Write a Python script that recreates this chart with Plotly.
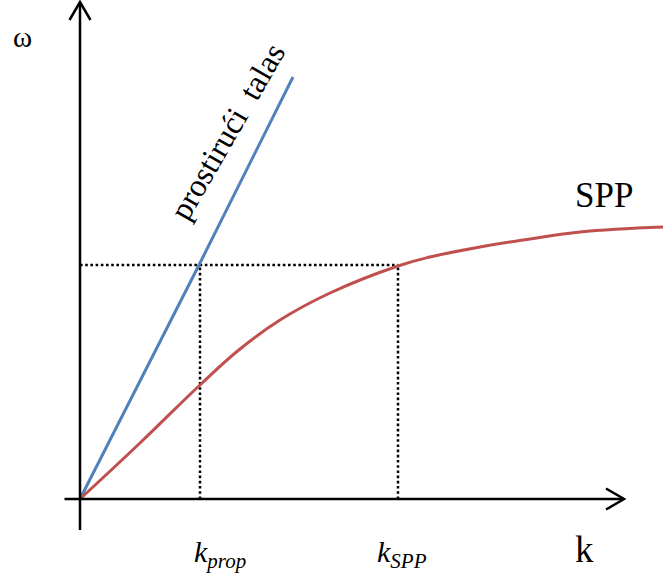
import plotly.graph_objects as go

# Light line (prostirući talas): omega = c k
k_light = [0.0, 1.20, 2.13]
w_light = [0.0, 2.36, 4.22]

# SPP dispersion curve
k_spp = [0.0, 0.60, 1.20, 1.60, 2.00, 2.50, 3.18, 3.50, 4.00, 4.50, 5.00, 5.83]
w_spp = [0.0, 0.56, 1.14, 1.50, 1.79, 2.06, 2.33, 2.42, 2.52, 2.60, 2.67, 2.72]

# Marked wavevectors and common frequency
k_prop = 1.20
k_SPP = 3.18
w_mark = 2.34

FONT = "Liberation Serif"
fig = go.Figure()

# dotted guide lines
dot = dict(color="black", width=2.5, dash="2.6px,2.6px")
fig.add_trace(go.Scatter(x=[0, k_SPP], y=[w_mark, w_mark], mode="lines",
                         line=dot, hoverinfo="skip"))
for kv in (k_prop, k_SPP):
    fig.add_trace(go.Scatter(x=[kv, kv], y=[0, w_mark], mode="lines",
                             line=dot, hoverinfo="skip"))

fig.add_trace(go.Scatter(x=k_light, y=w_light, mode="lines",
                         line=dict(color="#4F81BD", width=3)))
fig.add_trace(go.Scatter(x=k_spp, y=w_spp, mode="lines",
                         line=dict(color="#C0504D", width=3, shape="spline", smoothing=1.2)))

# axes with open arrowheads
ax = dict(type="line", xref="x", yref="y", line=dict(color="black", width=2.5))
fig.add_shape(**ax, x0=-0.155, y0=0, x1=5.44, y1=0)
fig.add_shape(**ax, x0=0, y0=-0.31, x1=0, y1=4.97)
fig.add_shape(type="path", xref="x", yref="y", path="M 5.26 0.105 L 5.44 0 L 5.26 -0.105",
              line=dict(color="black", width=2.5))
fig.add_shape(type="path", xref="x", yref="y", path="M -0.105 4.79 L 0 4.97 L 0.105 4.79",
              line=dict(color="black", width=2.5))

def ann(x, y, text, size, **kw):
    fig.add_annotation(x=x, y=y, xref="x", yref="y", text=text, showarrow=False,
                       font=dict(family=FONT, size=size, color="black"), **kw)

ann(-0.58, 4.62, "ω", 29)
ann(5.04, -0.50, "k", 37)
ann(1.12, -0.55, "<i>k<sub>prop</sub></i>", 30, xanchor="left")
ann(2.95, -0.55, "<i>k<sub>SPP</sub></i>", 30, xanchor="left")
ann(5.24, 3.04, "SPP", 35)
ann(1.47, 3.67, "prostirući  talas", 32, textangle=-60)

fig.update_layout(
    width=663, height=577, margin=dict(l=0, r=0, t=0, b=0),
    paper_bgcolor="white", plot_bgcolor="white", showlegend=False,
    xaxis=dict(range=[-0.80, 5.83], visible=False, fixedrange=True),
    yaxis=dict(range=[-0.78, 4.99], visible=False, fixedrange=True),
)
fig.write_html("out.html")
